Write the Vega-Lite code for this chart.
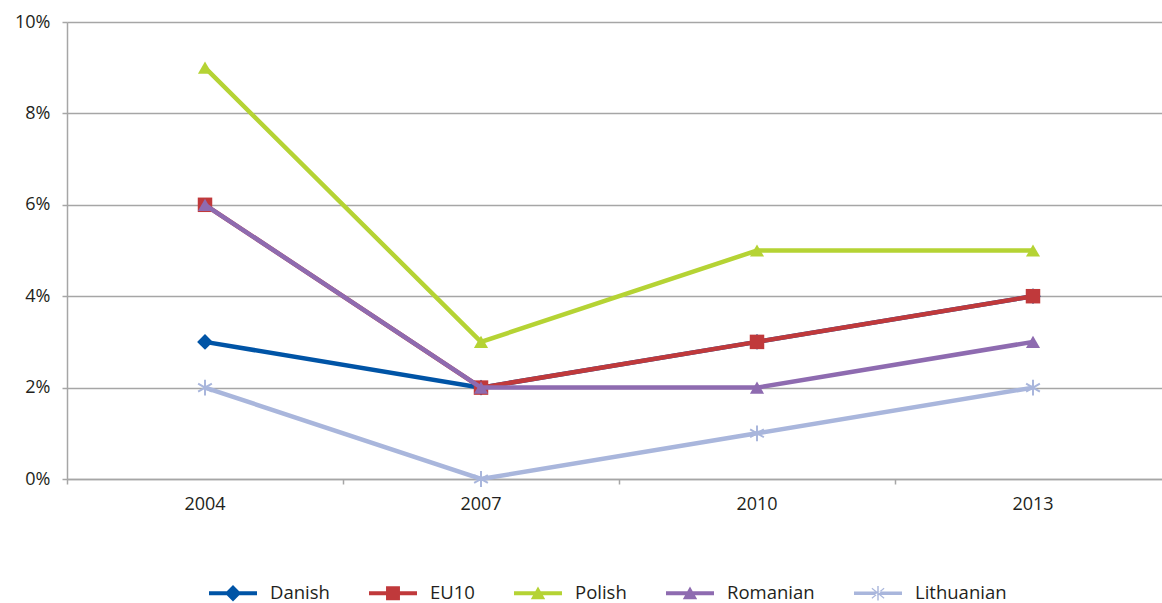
{
  "$schema": "https://vega.github.io/schema/vega-lite/v6.json",
  "autosize": "none",
  "width": 1095,
  "height": 457,
  "padding": {"left": 67, "top": 22, "right": 0, "bottom": 124},
  "background": "white",
  "config": {
    "font": "Open Sans",
    "view": {"stroke": null},
    "axis": {"labelFont": "Open Sans", "labelColor": "#231f20", "labelFontSize": 18}
  },
  "data": {
    "values": [
      {"series": "Danish", "year": "2004", "value": 0.03},
      {"series": "Danish", "year": "2007", "value": 0.02},
      {"series": "Danish", "year": "2010", "value": 0.03},
      {"series": "Danish", "year": "2013", "value": 0.04},
      {"series": "EU10", "year": "2004", "value": 0.06},
      {"series": "EU10", "year": "2007", "value": 0.02},
      {"series": "EU10", "year": "2010", "value": 0.03},
      {"series": "EU10", "year": "2013", "value": 0.04},
      {"series": "Polish", "year": "2004", "value": 0.09},
      {"series": "Polish", "year": "2007", "value": 0.03},
      {"series": "Polish", "year": "2010", "value": 0.05},
      {"series": "Polish", "year": "2013", "value": 0.05},
      {"series": "Romanian", "year": "2004", "value": 0.06},
      {"series": "Romanian", "year": "2007", "value": 0.02},
      {"series": "Romanian", "year": "2010", "value": 0.02},
      {"series": "Romanian", "year": "2013", "value": 0.03},
      {"series": "Lithuanian", "year": "2004", "value": 0.02},
      {"series": "Lithuanian", "year": "2007", "value": 0.0},
      {"series": "Lithuanian", "year": "2010", "value": 0.01},
      {"series": "Lithuanian", "year": "2013", "value": 0.02}
    ]
  },
  "encoding": {
    "x": {
      "field": "year", "type": "ordinal",
      "scale": {"type": "band", "paddingInner": 0, "paddingOuter": 0, "range": [0, 1104]},
      "axis": {
        "title": null, "labelAngle": 0, "grid": false,
        "bandPosition": 0,
        "domainColor": "#a6a6a6", "domainWidth": 1.5,
        "tickColor": "#a6a6a6", "tickWidth": 1.5, "tickSize": 5,
        "labelPadding": 11, "labelFontSize": 18
      }
    },
    "y": {
      "field": "value", "type": "quantitative",
      "scale": {"domain": [0, 0.1], "nice": false, "zero": true},
      "axis": {
        "title": null, "values": [0, 0.02, 0.04, 0.06, 0.08, 0.1], "format": ".0%",
        "grid": true, "gridColor": "#a6a6a6", "gridWidth": 1.5,
        "domainColor": "#a6a6a6", "domainWidth": 1.5,
        "tickColor": "#a6a6a6", "tickWidth": 1.5, "tickSize": 5,
        "labelPadding": 12, "labelFontSize": 18
      }
    },
    "color": {
      "field": "series", "type": "nominal",
      "scale": {
        "domain": ["Danish", "EU10", "Polish", "Romanian", "Lithuanian"],
        "range": ["#0054a6", "#c0393b", "#b5d334", "#8e6bb0", "#a9b6dc"]
      },
      "legend": {
        "orient": "none", "legendX": 142, "legendY": 547,
        "direction": "horizontal", "title": null,
        "symbolType": "M-1,-0.08H1V0.08H-1Z",
        "symbolSize": 2304, "symbolStrokeWidth": 0,
        "labelFont": "Open Sans", "labelFontSize": 18.5, "labelColor": "#231f20",
        "labelOffset": 13, "columnPadding": 39,
        "encode": {
          "symbols": {
            "update": {
              "shape": {"signal": "datum.value === 'Danish' ? 'M-1,-0.08H1V0.08H-1Z M0,-0.34L0.34,0L0,0.34L-0.34,0Z' : datum.value === 'EU10' ? 'M-1,-0.08H1V0.08H-1Z M-0.29,-0.29H0.29V0.29H-0.29Z' : datum.value === 'Lithuanian' ? 'M-1,-0.07H1V0.07H-1Z M-0.03,-0.3H0.03V0.3H-0.03Z M-0.27,-0.19L-0.24,-0.23L0.27,0.19L0.24,0.23Z M0.27,-0.19L0.24,-0.23L-0.27,0.19L-0.24,0.23Z' : 'M-1,-0.08H1V0.08H-1Z M0,-0.28L0.3,0.25H-0.3Z'"},
              "fill": {"scale": "color", "field": "value"},
              "opacity": {"value": 1}
            }
          }
        }
      }
    }
  },
  "layer": [
    {
      "transform": [{"filter": "datum.series === 'Danish'"}],
      "mark": {"type": "line", "strokeWidth": 4.5},
      "encoding": {"order": {"field": "year"}}
    },
    {
      "transform": [{"filter": "datum.series === 'Danish'"}],
      "mark": {"type": "point", "filled": true, "opacity": 1, "shape": "diamond", "size": 250}
    },
    {
      "transform": [{"filter": "datum.series === 'EU10'"}],
      "mark": {"type": "line", "strokeWidth": 4.5},
      "encoding": {"order": {"field": "year"}}
    },
    {
      "transform": [{"filter": "datum.series === 'EU10'"}],
      "mark": {"type": "point", "filled": true, "opacity": 1, "shape": "square", "size": 210}
    },
    {
      "transform": [{"filter": "datum.series === 'Polish'"}],
      "mark": {"type": "line", "strokeWidth": 4.5},
      "encoding": {"order": {"field": "year"}}
    },
    {
      "transform": [{"filter": "datum.series === 'Polish'"}],
      "mark": {"type": "point", "filled": true, "opacity": 1, "shape": "triangle-up", "size": 200}
    },
    {
      "transform": [{"filter": "datum.series === 'Romanian'"}],
      "mark": {"type": "line", "strokeWidth": 4.5},
      "encoding": {"order": {"field": "year"}}
    },
    {
      "transform": [{"filter": "datum.series === 'Romanian'"}],
      "mark": {"type": "point", "filled": true, "opacity": 1, "shape": "triangle-up", "size": 200}
    },
    {
      "transform": [{"filter": "datum.series === 'Lithuanian'"}],
      "mark": {"type": "line", "strokeWidth": 4.5},
      "encoding": {"order": {"field": "year"}}
    },
    {
      "transform": [{"filter": "datum.series === 'Lithuanian'"}],
      "mark": {"type": "point", "filled": false, "opacity": 1, "strokeWidth": 2, "shape": "M0,-1V1M-0.87,-0.5L0.87,0.5M-0.87,0.5L0.87,-0.5", "size": 250}
    }
  ]
}
